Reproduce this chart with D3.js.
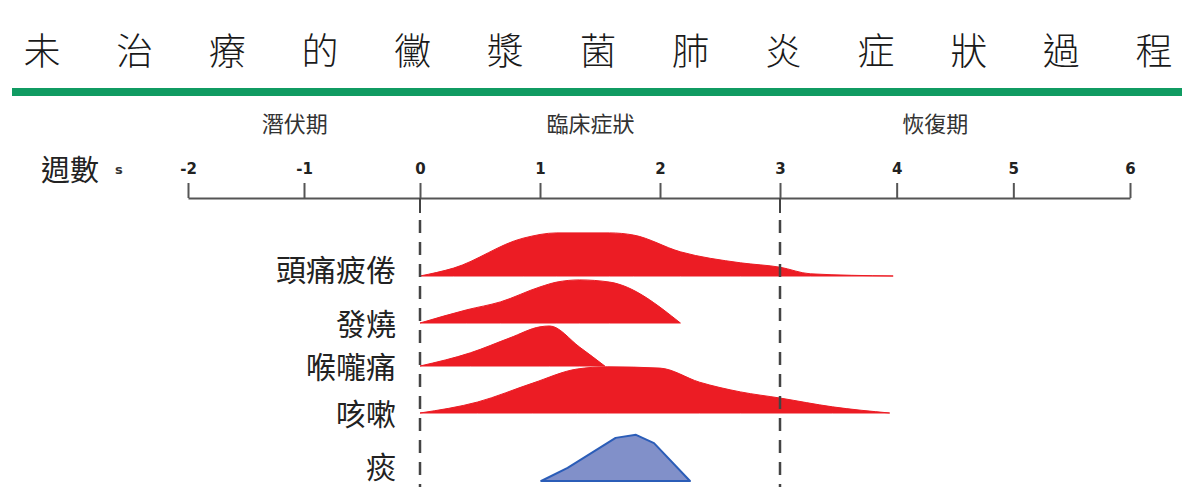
<!DOCTYPE html>
<html>
<head>
<meta charset="utf-8">
<script src="https://cdn.jsdelivr.net/npm/d3@7"></script>
<style>
  html, body { margin: 0; padding: 0; background: #fff; }
  svg { display: block; }
</style>
</head>
<body>
<svg id="chart"></svg>
<script>
// chart data
const title = '未治療的黴漿菌肺炎症狀過程';
const weeks = [-2, -1, 0, 1, 2, 3, 4, 5, 6];
const phases = ['潛伏期', '臨床症狀', '恢復期'];
const phaseWeek = [-1.08, 1.42, 4.33];
const phaseBounds = [0, 3];
const symptoms = ['頭痛疲倦', '發燒', '喉嚨痛', '咳嗽', '痰'];

// each symptom: week positions and relative intensity (1 = full)
const headacheWeek  = [0, 0.28, 0.86, 1.14, 1.58, 1.78, 2.17, 2.67, 3.0, 3.26, 3.97];
const headacheLevel = [0, 0.18, 0.86, 0.98, 0.98, 0.93, 0.55, 0.30, 0.20, 0.05, 0];
const feverWeek     = [0, 0.39, 0.67, 1.0, 1.14, 1.33, 1.58, 2.17];
const feverLevel    = [0, 0.30, 0.48, 0.82, 0.93, 0.98, 0.93, 0];
const throatWeek    = [0, 0.42, 0.75, 1.0, 1.08, 1.33, 1.54];
const throatLevel   = [0, 0.30, 0.64, 0.89, 0.91, 0.43, 0];
const coughWeek     = [0, 0.48, 0.94, 1.31, 1.56, 2.0, 2.33, 2.67, 3.0, 3.45, 3.94];
const coughLevel    = [0, 0.25, 0.68, 1.0, 1.05, 1.02, 0.70, 0.48, 0.34, 0.14, 0];
const phlegmWeek    = [1.01, 1.23, 1.63, 1.80, 1.95, 2.25];
const phlegmLevel   = [0, 0.30, 0.98, 1.05, 0.86, 0];

const series = [
  { name: '頭痛疲倦', week: headacheWeek, level: headacheLevel },
  { name: '發燒', week: feverWeek, level: feverLevel },
  { name: '喉嚨痛', week: throatWeek, level: throatLevel },
  { name: '咳嗽', week: coughWeek, level: coughLevel },
  { name: '痰', week: phlegmWeek, level: phlegmLevel }
];

// layout
const width = 1199, height = 500;
const axisY = 198;
const rowBase = [276, 323, 366, 413, 481];
const labelY = [268, 322, 365, 412, 465];
const peakPx = 44;
const cjk = '"Noto Sans CJK TC", "Noto Sans CJK SC", sans-serif';

const svg = d3.select('#chart')
  .attr('width', width)
  .attr('height', height);

// Title, evenly spread characters
const tx = d3.scalePoint()
  .domain(d3.range(title.length))
  .range([42, 1154]);

svg.append('g')
  .selectAll('text')
  .data(title.split(''))
  .join('text')
  .attr('x', (d, i) => tx(i))
  .attr('y', 49)
  .attr('text-anchor', 'middle')
  .attr('dominant-baseline', 'central')
  .attr('font-family', cjk)
  .attr('font-size', 37)
  .attr('font-weight', 300)
  .attr('fill', '#1a1a1a')
  .text(d => d);

// Green rule
svg.append('rect')
  .attr('x', 12)
  .attr('y', 88)
  .attr('width', 1170)
  .attr('height', 8)
  .attr('fill', '#109b62');

// Scales
const x = d3.scaleLinear()
  .domain([-2, 0, 3, 6])
  .range([188, 420, 780, 1130]);

const rowY = d3.scaleOrdinal().domain(symptoms).range(rowBase);
const labY = d3.scaleOrdinal().domain(symptoms).range(labelY);

// Phase labels
svg.append('g')
  .selectAll('text')
  .data(phases)
  .join('text')
  .attr('x', (d, i) => x(phaseWeek[i]))
  .attr('y', 122)
  .attr('text-anchor', 'middle')
  .attr('dominant-baseline', 'central')
  .attr('font-family', cjk)
  .attr('font-size', 22)
  .attr('fill', '#333')
  .text(d => d);

// Axis title
svg.append('text')
  .attr('x', 41)
  .attr('y', 168)
  .attr('dominant-baseline', 'central')
  .attr('font-family', cjk)
  .attr('font-size', 29)
  .attr('fill', '#222')
  .text('週數');

svg.append('text')
  .attr('x', 115)
  .attr('y', 169)
  .attr('dominant-baseline', 'central')
  .attr('font-family', '"DejaVu Sans", sans-serif')
  .attr('font-size', 13)
  .attr('font-weight', 'bold')
  .attr('fill', '#333')
  .text('s');

// Week axis
const axis = svg.append('g')
  .attr('transform', `translate(0,${axisY})`)
  .call(d3.axisTop(x)
    .tickValues(weeks)
    .tickSizeInner(15)
    .tickSizeOuter(0)
    .tickPadding(9)
    .tickFormat(d => String(d)));

axis.select('.domain')
  .attr('stroke', '#555')
  .attr('stroke-width', 2);
axis.selectAll('.tick line')
  .attr('stroke', '#555')
  .attr('stroke-width', 2);
axis.selectAll('.tick text')
  .attr('font-family', '"DejaVu Sans", sans-serif')
  .attr('font-size', 15)
  .attr('font-weight', 'bold')
  .attr('fill', '#222');

// Symptom labels
svg.append('g')
  .selectAll('text')
  .data(symptoms)
  .join('text')
  .attr('x', 396)
  .attr('y', d => labY(d))
  .attr('text-anchor', 'end')
  .attr('dominant-baseline', 'central')
  .attr('font-family', cjk)
  .attr('font-size', 30)
  .attr('fill', '#222')
  .text(d => d);

// Symptom shapes
series.forEach(s => {
  const base = rowY(s.name);
  const y = d3.scaleLinear().domain([0, 1]).range([base, base - peakPx]);
  const pts = s.week.map((w, j) => [w, s.level[j]]);
  const isPhlegm = s.name === '痰';

  const area = d3.area()
    .x(d => x(d[0]))
    .y0(base)
    .y1(d => y(d[1]))
    .curve(isPhlegm ? d3.curveLinear : d3.curveMonotoneX);

  svg.append('path')
    .datum(pts)
    .attr('d', area)
    .attr('fill', isPhlegm ? '#8190c9' : '#ec1c24')
    .attr('stroke', isPhlegm ? '#2b5db8' : '#ec1c24')
    .attr('stroke-width', isPhlegm ? 2 : 1)
    .attr('stroke-linejoin', 'round');
});

// Phase boundaries: solid stub below the axis, then dashes
phaseBounds.forEach(w => {
  svg.append('line')
    .attr('x1', x(w)).attr('x2', x(w))
    .attr('y1', axisY).attr('y2', 213)
    .attr('stroke', '#444')
    .attr('stroke-width', 2);

  svg.append('line')
    .attr('x1', x(w)).attr('x2', x(w))
    .attr('y1', 220).attr('y2', 487)
    .attr('stroke', '#444')
    .attr('stroke-width', 2.5)
    .attr('stroke-dasharray', '13,9');
});
</script>
</body>
</html>
